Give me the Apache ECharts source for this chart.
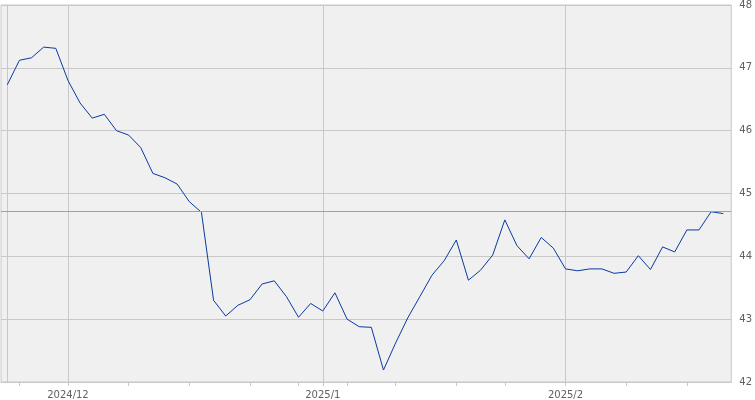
<!DOCTYPE html>
<html>
<head>
<meta charset="utf-8">
<script src="https://cdn.jsdelivr.net/npm/echarts@6/dist/echarts.min.js"></script>
<style>
  html, body { margin: 0; padding: 0; background: #ffffff; }
  #chart { width: 755px; height: 400px; }
</style>
</head>
<body>
<div id="chart"></div>
<script>
// Closing values, one per trading day (index 0 .. 59)
const values = [
  46.73, 47.12, 47.16, 47.33, 47.31, 46.80, 46.44, 46.20, 46.26, 46.00,
  45.93, 45.73, 45.32, 45.25, 45.15, 44.87, 44.70, 43.30, 43.05, 43.22,
  43.31, 43.56, 43.61, 43.36, 43.03, 43.25, 43.13, 43.42, 43.00, 42.88,
  42.87, 42.19, 42.62, 43.02, 43.36, 43.70, 43.93, 44.26, 43.62, 43.78,
  44.02, 44.58, 44.17, 43.96, 44.30, 44.13, 43.80, 43.77, 43.80, 43.80,
  43.73, 43.75, 44.01, 43.79, 44.15, 44.07, 44.42, 44.42, 44.71, 44.68
];
// Reference (horizontal) line value
const refLine = 44.71;
// Weekly tick positions (trading-day index)
const weekTicks = [1, 5, 10, 15, 20, 24, 26, 28, 32, 37, 41, 46, 51, 56];
// Month start positions and their labels
const monthTicks = [5, 26, 46];
const monthLabels = ['2024/12', '2025/1', '2025/2'];
// Y axis range
const yMin = 42, yMax = 48, yStep = 1;

const seriesData = values.map((v, i) => [i, v]);
const labelFor = {};
monthTicks.forEach((t, k) => { labelFor[t] = monthLabels[k]; });

const chart = echarts.init(document.getElementById('chart'), null, { renderer: 'canvas' });
const gridColor = '#c8c8c8';
const textStyle = { color: '#606060', fontFamily: 'DejaVu Sans', fontSize: 10 };

chart.setOption({
  animation: false,
  backgroundColor: '#ffffff',
  grid: {
    left: 1, right: 21, top: 3, bottom: 18,
    show: true, backgroundColor: '#f0f0f0', borderColor: gridColor, borderWidth: 1
  },
  xAxis: [
    {
      type: 'value', min: -0.517, max: 59.66,
      axisLine: { show: true, lineStyle: { color: gridColor } },
      axisTick: { show: true, customValues: weekTicks, length: 4, lineStyle: { color: gridColor } },
      axisLabel: Object.assign({
        show: true, customValues: monthTicks, margin: 8,
        formatter: v => labelFor[Math.round(v)] || ''
      }, textStyle),
      splitLine: { show: false }
    },
    {
      type: 'value', min: -0.517, max: 59.66, position: 'bottom',
      axisLine: { show: false },
      axisTick: { show: false, customValues: monthTicks },
      axisLabel: { show: false },
      splitLine: { show: true, lineStyle: { color: gridColor, width: 1 } }
    }
  ],
  yAxis: {
    type: 'value', position: 'right', min: yMin, max: yMax, interval: yStep,
    axisLine: { show: true, lineStyle: { color: gridColor } },
    axisTick: { show: true, length: 5, lineStyle: { color: gridColor } },
    axisLabel: Object.assign({ margin: 8 }, textStyle),
    splitLine: { show: true, lineStyle: { color: gridColor, width: 1 } }
  },
  series: [{
    type: 'line',
    xAxisIndex: 0,
    data: seriesData,
    showSymbol: false,
    symbol: 'none',
    lineStyle: { color: '#0a3aa0', width: 1 },
    markLine: {
      silent: true,
      symbol: 'none',
      label: { show: false },
      lineStyle: { color: '#f08080', type: 'solid', width: 1 },
      data: [{ yAxis: refLine }]
    }
  }]
});
</script>
</body>
</html>
